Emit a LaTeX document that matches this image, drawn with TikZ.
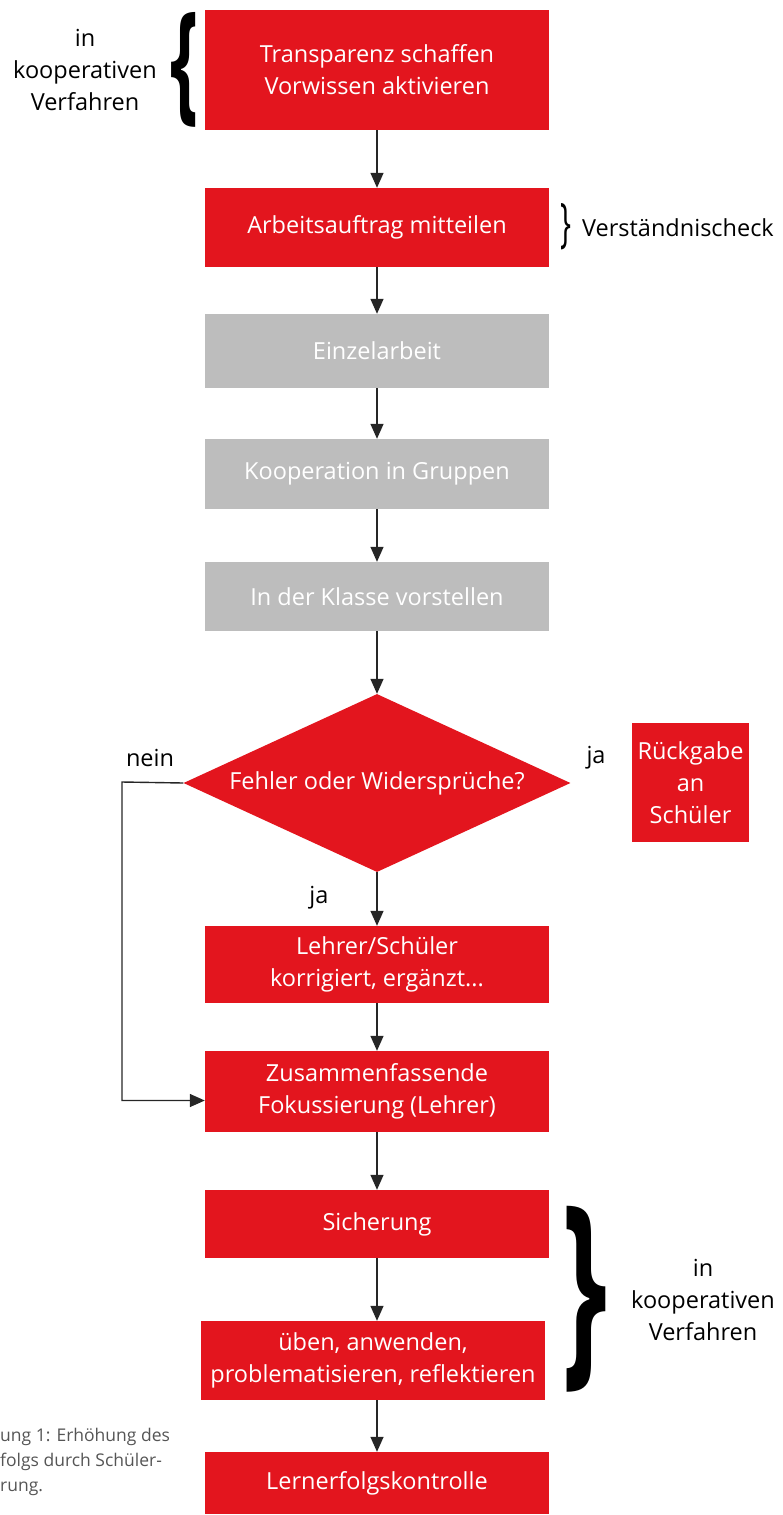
\documentclass[tikz,border=0pt]{standalone}
\usepackage{fontspec}
\setmainfont{Open Sans}
\usetikzlibrary{shapes.geometric,arrows.meta}
\definecolor{fred}{HTML}{E3151E}
\definecolor{fgray}{HTML}{BDBDBD}
\definecolor{capgray}{HTML}{555555}
\tikzset{
  box/.style={fill=fred,text=white,minimum width=344pt,inner sep=0pt,align=center,font=\fontsize{23.5}{32}\selectfont},
  graybox/.style={box,fill=fgray},
  lbl/.style={text=black,inner sep=0pt,align=center,font=\fontsize{23.5}{32}\selectfont},
  arr/.style={line width=1.4pt,draw=black!85,-{Triangle[length=15pt,width=13pt]}},
}
\begin{document}
\begin{tikzpicture}[x=1pt,y=-1pt]
\useasboundingbox (0,0) rectangle (782,1515);
\node[box,minimum height=120pt] (b1) at (377,70) {Transparenz schaffen\\Vorwissen aktivieren};
\node[box,minimum height=79pt] (b2) at (377,227.5) {Arbeitsauftrag mitteilen};
\node[graybox,minimum height=74pt] (b3) at (377,351) {Einzelarbeit};
\node[graybox,minimum height=70pt] (b4) at (377,474) {Kooperation in Gruppen};
\node[graybox,minimum height=69pt] (b5) at (377,596.5) {In der Klasse vorstellen};
\node[box,shape=diamond,aspect=2.17,minimum width=387pt,minimum height=178pt] (d) at (377,783) {Fehler oder Widersprüche?};
\node[box,minimum width=117pt,minimum height=119pt] (rg) at (690.5,782.5) {Rückgabe\\an\\Schüler};
\node[box,minimum height=77pt] (b6) at (377,964.5) {Lehrer/Schüler\\korrigiert, ergänzt...};
\node[box,minimum height=81pt] (b7) at (377,1091.5) {Zusammenfassende\\Fokussierung (Lehrer)};
\node[box,minimum height=68pt] (b8) at (377,1224) {Sicherung};
\node[box,minimum height=79pt] (b9) at (373,1360.5) {üben, anwenden,\\problematisieren, reflektieren};
\node[box,minimum height=62pt] (b10) at (377,1483) {Lernerfolgskontrolle};

\draw[arr] (b1) -- (b2);
\draw[arr] (b2) -- (b3);
\draw[arr] (b3) -- (b4);
\draw[arr] (b4) -- (b5);
\draw[arr] (b5) -- (d);
\draw[arr] (d) -- (b6);
\draw[arr] (b6) -- (b7);
\draw[arr] (b7) -- (b8);
\draw[arr] (b8.south -| b10) -- (b9.north -| b10);
\draw[arr] (b9.south -| b10) -- (b10);
\coordinate (nl) at (122,782);
\draw[arr] (d.west) -- (nl) |- ([yshift=-9pt]b7.west);

\node[lbl] (nein) at (150,758) {nein};
\node[lbl] (ja1) at (596,758) {ja};
\node[lbl] (ja2) at (319,898) {ja};

\node[lbl] (t1) at (85,70) {in\\kooperativen\\Verfahren};
\node[inner sep=0pt] (br1) at (185,70) {\resizebox{28pt}{94pt}{\bfseries\{}};
\node[inner sep=0pt] (br2) at (566,227) {\resizebox{11pt}{38pt}{\}}};
\node[lbl,anchor=west] (vc) at (582,228) {Verständnischeck};
\node[inner sep=0pt] (br3) at (585,1299) {\resizebox{45pt}{152pt}{\bfseries\}}};
\node[lbl] (t2) at (703,1300) {in\\kooperativen\\Verfahren};

\node[anchor=north west,inner sep=0pt,align=left,text=capgray,font=\fontsize{17.5}{25}\selectfont] (cap) at (0,1428) {ung 1: Erhöhung des\\folgs durch Schüler-\\rung.};
\end{tikzpicture}
\end{document}
